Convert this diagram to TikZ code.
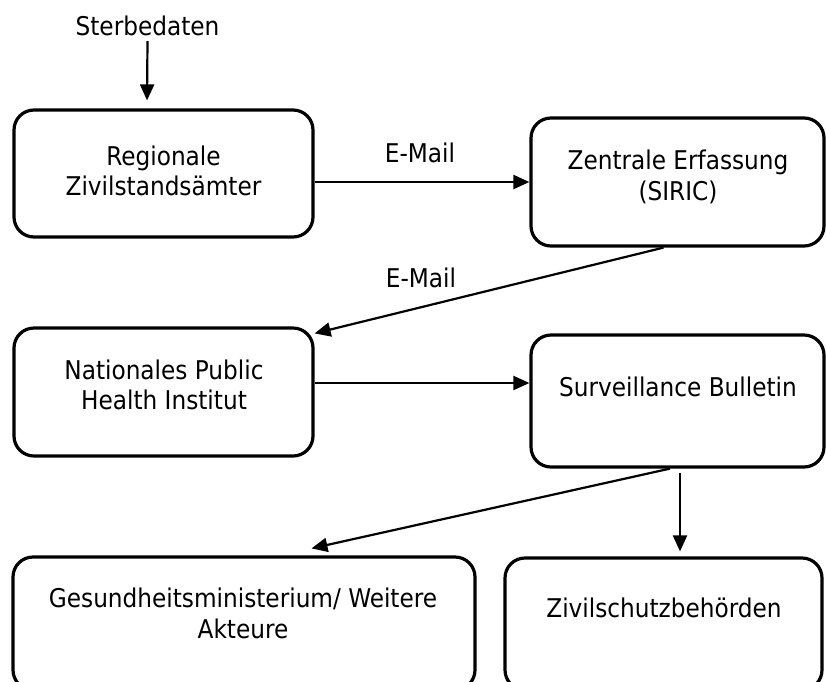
\documentclass[tikz,border=0pt]{standalone}
\usepackage{fontspec}
\setmainfont{DejaVu Sans Condensed}
\usetikzlibrary{arrows.meta,calc}
\begin{document}
\begin{tikzpicture}[x=1pt,y=-1pt,
  box/.style={draw,line width=3.2pt,rounded corners=20pt,inner sep=0pt},
  lbl/.style={font=\fontsize{25.8}{30.5}\selectfont,align=center,inner sep=0pt},
  conn/.style={line width=2.2pt,-{Triangle[length=16pt,width=14pt]}}]
\useasboundingbox (0,0) rectangle (826,681);
\fill[white] (0,0) rectangle (826,681);
\begin{scope}
\clip (0,0) rectangle (826,681);
\node[box,minimum width=299pt,minimum height=127pt] (b1) at (163.5,173.5) {};
\node[box,minimum width=293pt,minimum height=128pt] (b2) at (677.5,182) {};
\node[box,minimum width=299pt,minimum height=128pt] (b3) at (163.5,392) {};
\node[box,minimum width=293pt,minimum height=132pt] (b4) at (677.5,401) {};
\node[box,minimum width=462pt,minimum height=133pt] (b5) at (244,623.5) {};
\node[box,minimum width=317pt,minimum height=132pt] (b6) at (663.5,624) {};
\end{scope}
\node[lbl] (st) at (147.5,26) {Sterbedaten};
\node[lbl] (t1) at (163.5,171) {Regionale\\Zivilstandsämter};
\node[lbl] (t2) at (678,177) {Zentrale Erfassung\\(SIRIC)};
\node[lbl] (t3) at (164,385) {Nationales Public\\Health Institut};
\node[lbl] (t4) at (678,386.5) {Surveillance Bulletin};
\node[lbl] (t5) at (243,613.5) {Gesundheitsministerium/ Weitere\\Akteure};
\node[lbl] (t6) at (664,607.5) {Zivilschutzbehörden};
\node[lbl] (m1) at (420,153) {E-Mail};
\node[lbl] (m2) at (421,277.5) {E-Mail};
\coordinate (h3) at ([yshift=9pt]b3.east);
\draw[conn] ([yshift=-5pt]st.south) -- ([xshift=-16.5pt,yshift=8pt]b1.north);
\draw[conn] (b1.east |- b2.west) -- (b2.west);
\draw[conn] ([xshift=-14pt]b2.south) -- ([yshift=-7pt]b3.north east);
\draw[conn] (h3) -- (b4.west |- h3);
\draw[conn] ([xshift=-7.5pt]b4.south) -- ([xshift=67.5pt,yshift=7pt]b5.north);
\draw[conn] ([xshift=2.5pt,yshift=-4pt]b4.south) -- ([xshift=16.5pt,yshift=5pt]b6.north);
\end{tikzpicture}
\end{document}
